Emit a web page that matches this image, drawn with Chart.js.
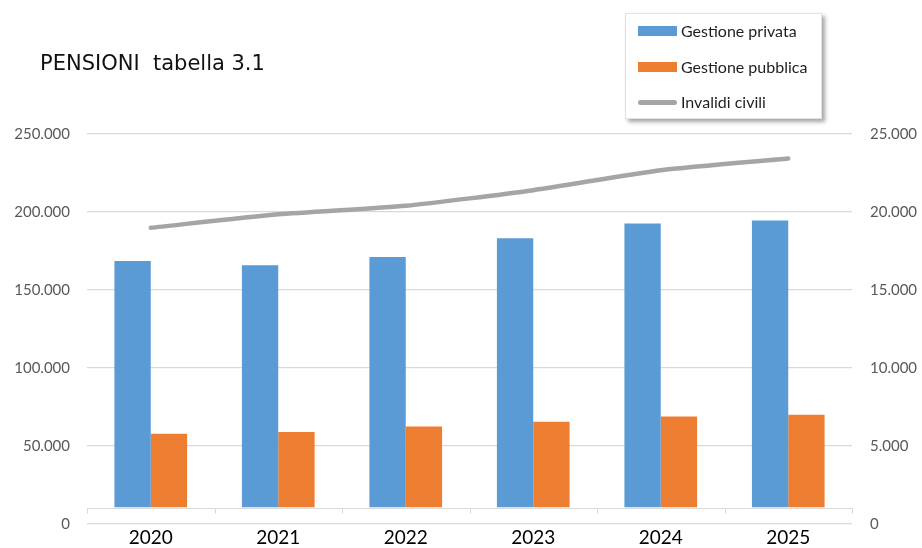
<!DOCTYPE html>
<html>
<head>
<meta charset="utf-8">
<script src="https://cdn.jsdelivr.net/npm/chart.js@4"></script>
<style>
  html, body { margin: 0; padding: 0; background: #ffffff; }
  #wrap { position: relative; width: 922px; height: 548px; overflow: hidden; }
  canvas { display: block; }
  #title { position: absolute; left: 40px; top: 53px; font-family: "DejaVu Sans", Verdana, sans-serif; font-size: 21px; line-height: 21px; color: #111; white-space: pre; }
  #legend { position: absolute; left: 625px; top: 13px; width: 197px; height: 106px; background: #fff; border: 1px solid #e2e2e2; box-shadow: 3px 3px 4px rgba(0,0,0,0.35); box-sizing: border-box; }
  .item { position: absolute; left: 0; height: 20px; width: 197px; font-family: Lato, "Open Sans", sans-serif; font-size: 16px; line-height: 20px; color: #1e1e1e; }
  .sw { position: absolute; left: 12px; width: 39px; }
  .lbl { position: absolute; left: 55px; top: 0; white-space: nowrap; }
</style>
</head>
<body>
<div id="wrap">
  <canvas id="c" width="922" height="548"></canvas>
  <div id="title">PENSIONI  tabella 3.1</div>
  <div id="legend"></div>
</div>
<script>
// ---- data ----
const categories = ['2020', '2021', '2022', '2023', '2024', '2025'];
const seriesNames = ['Gestione privata', 'Gestione pubblica', 'Invalidi civili'];
const gestionePrivata = [168600, 165800, 171100, 183100, 192700, 194600];
const gestionePubblica = [57800, 58900, 62500, 65500, 68900, 70000];
const invalidiCivili = [18990, 19850, 20400, 21400, 22680, 23430];
const leftAxisMax = 250000;
const rightAxisMax = 25000;
const barBase = 10800;

const colors = ['#5B9BD5', '#ED7D31', '#A5A5A5'];

function fmt(v) {
  return String(Math.round(v)).replace(/\B(?=(\d{3})+(?!\d))/g, '.');
}

// category axis line drawn at the bars' base (like the source chart)
const catAxisPlugin = {
  id: 'catAxis',
  beforeDatasetsDraw(chart) {
    const { ctx, chartArea, scales } = chart;
    const y = Math.round(scales.y.getPixelForValue(barBase)) + 1.5;
    const xs = scales.x;
    const step = (chartArea.right - chartArea.left) / categories.length;
    ctx.save();
    ctx.strokeStyle = '#D9D9D9';
    ctx.lineWidth = 1;
    ctx.beginPath();
    ctx.moveTo(chartArea.left, y);
    ctx.lineTo(chartArea.right, y);
    for (let i = 0; i <= categories.length; i++) {
      const x = Math.round(xs.getPixelForValue(0) - step / 2 + i * step) + 0.5;
      ctx.moveTo(x, y);
      ctx.lineTo(x, y + 5);
    }
    ctx.stroke();
    ctx.restore();
  }
};

function noVPad(s) { s.paddingTop = 0; s.paddingBottom = 0; }

const chart = new Chart(document.getElementById('c'), {
  data: {
    labels: categories,
    datasets: [
      { type: 'line', label: seriesNames[2], data: invalidiCivili, yAxisID: 'y1', order: 0,
        borderColor: colors[2], borderWidth: 4.5, borderCapStyle: 'round', borderJoinStyle: 'round',
        pointRadius: 0, tension: 0.2, fill: false },
      { type: 'bar', label: seriesNames[0], data: gestionePrivata, yAxisID: 'y', order: 1,
        backgroundColor: colors[0], base: barBase, borderWidth: 0 },
      { type: 'bar', label: seriesNames[1], data: gestionePubblica, yAxisID: 'y', order: 2,
        backgroundColor: colors[1], base: barBase, borderWidth: 0 }
    ]
  },
  options: {
    responsive: false,
    animation: false,
    devicePixelRatio: 1,
    layout: { padding: { top: 134, left: 0, right: 0, bottom: 0 } },
    datasets: { bar: { categoryPercentage: 0.57, barPercentage: 1.0 } },
    plugins: { legend: { display: false }, title: { display: false }, tooltip: { enabled: false } },
    scales: {
      x: {
        grid: { display: false, drawTicks: false },
        border: { display: false },
        ticks: { color: '#000', padding: 2, maxRotation: 0, font: { family: 'Lato', size: 19 } },
        afterFit(s) { s.height = 24; }
      },
      y: {
        position: 'left', min: 0, max: leftAxisMax,
        grid: { color: '#D9D9D9', lineWidth: 1.2, drawTicks: false },
        border: { display: false },
        ticks: { stepSize: 50000, padding: 17, color: '#595959', font: { family: 'Lato', size: 15 }, callback: v => fmt(v) },
        afterFit(s) { s.width = 87; noVPad(s); }
      },
      y1: {
        position: 'right', min: 0, max: rightAxisMax,
        grid: { display: false, drawTicks: false },
        border: { display: false },
        ticks: { stepSize: 5000, padding: 18, color: '#595959', font: { family: 'Lato', size: 15 }, callback: v => fmt(v) },
        afterFit(s) { s.width = 70; noVPad(s); }
      }
    }
  },
  plugins: [catAxisPlugin]
});

// legend (HTML, built from the series)
const legend = document.getElementById('legend');
const itemCenters = [17, 53, 88];
[0, 1, 2].forEach((k, i) => {
  const it = document.createElement('div');
  it.className = 'item';
  it.style.top = (itemCenters[i] - 10) + 'px';
  const sw = document.createElement('div');
  sw.className = 'sw';
  if (k < 2) {
    sw.style.top = '5px'; sw.style.height = '10px'; sw.style.background = colors[k];
  } else {
    sw.style.top = '8px'; sw.style.height = '4.5px'; sw.style.background = colors[k]; sw.style.borderRadius = '3px';
  }
  const lb = document.createElement('div');
  lb.className = 'lbl';
  lb.textContent = seriesNames[k];
  it.appendChild(sw); it.appendChild(lb);
  legend.appendChild(it);
});
</script>
</body>
</html>
